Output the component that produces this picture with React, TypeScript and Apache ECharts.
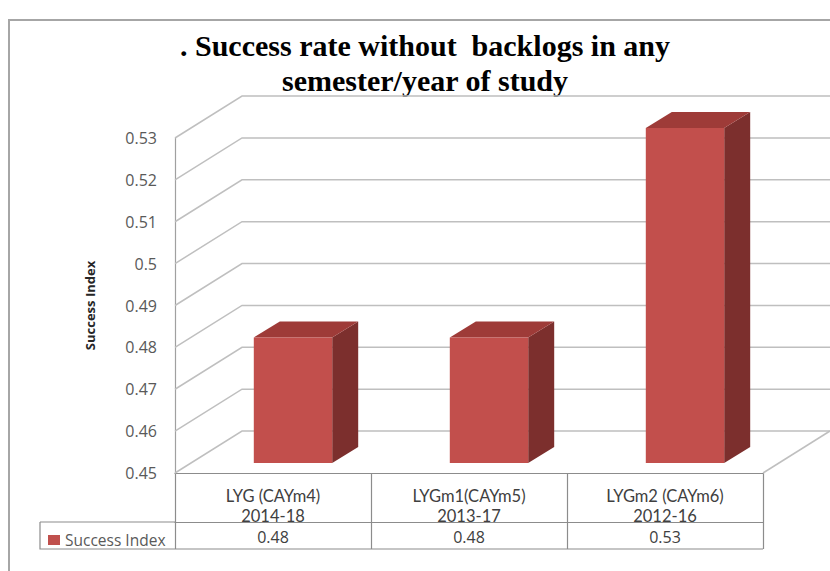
import React, { useEffect, useRef } from "react";
import * as echarts from "echarts";

const categoryNames = ["LYG (CAYm4)", "LYGm1(CAYm5)", "LYGm2 (CAYm6)"];
const categoryYears = ["2014-18", "2013-17", "2012-16"];
const successIndex = [0.48, 0.48, 0.53];
const yTicks = [0.45, 0.46, 0.47, 0.48, 0.49, 0.5, 0.51, 0.52, 0.53];
const seriesName = "Success Index";
const titleLines = [". Success rate without  backlogs in any", "semester/year of study"];

const DX = 67;
const DY = 42;
const BAR_SHIFT_X = 20;
const BAR_SHIFT_Y = 10;
const BAR_DX = 26;
const BAR_DY = 16;
const FONT = "'Open Sans', 'DejaVu Sans', sans-serif";
const FONT_CAT = "Lato, 'Open Sans', sans-serif";

export default function App() {
  const ref = useRef<HTMLDivElement>(null);
  useEffect(() => {
    const chart = echarts.init(ref.current!, undefined, { renderer: "svg" });
    const yMin = yTicks[0];
    const yMax = yTicks[yTicks.length - 1];
    chart.setOption({
      animation: false,
      color: ["#C0504D"],
      grid: { left: 175, top: 138, width: 588, height: 335, containLabel: false },
      legend: {
        data: [seriesName],
        left: 43,
        top: 527,
        icon: "rect",
        itemWidth: 12,
        itemHeight: 10,
        itemGap: 4,
        textStyle: { fontFamily: FONT, fontSize: 15.5, color: "#595959" },
      },
      graphic: [
        {
          type: "rect",
          shape: { x: 9, y: 20, width: 900, height: 600 },
          style: { fill: "none", stroke: "#A6A6A6", lineWidth: 2 },
          silent: true,
        },
        ...titleLines.map((t, i) => ({
          type: "text",
          x: 425,
          y: 45 + i * 35,
          style: {
            text: t,
            textAlign: "center",
            textVerticalAlign: "middle",
            fontFamily: "'Liberation Serif', 'Times New Roman', serif",
            fontWeight: "bold",
            fontSize: 30,
            fill: "#000",
          },
          silent: true,
        })),
        {
          type: "polyline",
          shape: { points: [[40, 522], [175, 522]] },
          style: { stroke: "#8C8C8C", lineWidth: 1.2, fill: "none" },
          silent: true,
        },
        {
          type: "polyline",
          shape: { points: [[40, 522], [40, 549], [763, 549]] },
          style: { stroke: "#8C8C8C", lineWidth: 1.2, fill: "none" },
          silent: true,
        },
      ],
      xAxis: [
        {
          type: "category",
          data: categoryNames.map((n, i) => n + "\n" + categoryYears[i]),
          position: "bottom",
          axisLine: { show: true, lineStyle: { color: "#8C8C8C", width: 1.2 } },
          axisTick: { show: true, length: 76, lineStyle: { color: "#8C8C8C", width: 1.2 } },
          axisLabel: {
            margin: 13,
            lineHeight: 20,
            fontFamily: FONT_CAT,
            fontSize: 16.5,
            color: "#404040",
          },
          splitLine: { show: false },
        },
        {
          type: "category",
          data: successIndex.map((v) => v.toFixed(2)),
          position: "bottom",
          offset: 49,
          axisLine: { show: true, lineStyle: { color: "#8C8C8C", width: 1.2 } },
          axisTick: { show: false },
          axisLabel: {
            margin: 7,
            lineHeight: 16,
            fontFamily: FONT,
            fontSize: 16,
            color: "#404040",
          },
          splitLine: { show: false },
        },
      ],
      yAxis: {
        type: "value",
        min: yMin,
        max: yMax,
        interval: 0.01,
        name: seriesName,
        nameLocation: "middle",
        nameRotate: 90,
        nameGap: 79,
        nameTextStyle: { fontFamily: FONT, fontSize: 13, fontWeight: "bold", color: "#262626" },
        axisLine: { show: true, lineStyle: { color: "#A0A0A0", width: 1.2 } },
        axisTick: { show: false },
        splitLine: { show: false },
        axisLabel: {
          margin: 18,
          fontFamily: FONT,
          fontSize: 16,
          color: "#595959",
          formatter: (v: number) => String(+v.toFixed(2)),
        },
      },
      series: [
        {
          type: "custom",
          name: "grid3d",
          silent: true,
          z: 1,
          data: yTicks.map((v) => [0, v]),
          renderItem: (params: any, api: any) => {
            const v = api.value(1);
            const y = api.coord([0, v])[1];
            const cs = params.coordSys;
            const children: any[] = [
              {
                type: "polyline",
                shape: {
                  points: [
                    [cs.x, y],
                    [cs.x + DX, y - DY],
                    [cs.x + cs.width + DX, y - DY],
                  ],
                },
                style: { stroke: "#BFBFBF", lineWidth: 1.5, fill: null },
              },
            ];
            if (v === yMin) {
              children.push({
                type: "line",
                shape: { x1: cs.x + cs.width, y1: y, x2: cs.x + cs.width + DX, y2: y - DY },
                style: { stroke: "#BFBFBF", lineWidth: 1.5 },
              });
            }
            return { type: "group", children };
          },
        },
        {
          type: "custom",
          name: seriesName,
          z: 3,
          itemStyle: { color: "#C0504D" },
          data: successIndex.map((v, i) => [i, v]),
          renderItem: (params: any, api: any) => {
            const i = api.value(0);
            const v = api.value(1);
            const top = api.coord([i, v]);
            const base = api.coord([i, yMin]);
            const w = api.size([1, 0])[0] * 0.4;
            const x0 = top[0] + BAR_SHIFT_X - w / 2;
            const x1 = x0 + w;
            const yt = top[1] - BAR_SHIFT_Y;
            const yb = base[1] - BAR_SHIFT_Y;
            return {
              type: "group",
              children: [
                {
                  type: "polygon",
                  shape: { points: [[x1, yt], [x1 + BAR_DX, yt - BAR_DY], [x1 + BAR_DX, yb - BAR_DY], [x1, yb]] },
                  style: { fill: "#7C2F2D" },
                },
                {
                  type: "polygon",
                  shape: { points: [[x0, yt], [x0 + BAR_DX, yt - BAR_DY], [x1 + BAR_DX, yt - BAR_DY], [x1, yt]] },
                  style: { fill: "#9E3B38" },
                },
                {
                  type: "rect",
                  shape: { x: x0, y: yt, width: w, height: yb - yt },
                  style: { fill: "#C24F4C" },
                },
              ],
            };
          },
        },
      ],
    });
    return () => chart.dispose();
  }, []);
  return (
    <div
      ref={ref}
      style={{ position: "fixed", left: 0, top: 0, width: 830, height: 571, background: "#fff" }}
    />
  );
}
